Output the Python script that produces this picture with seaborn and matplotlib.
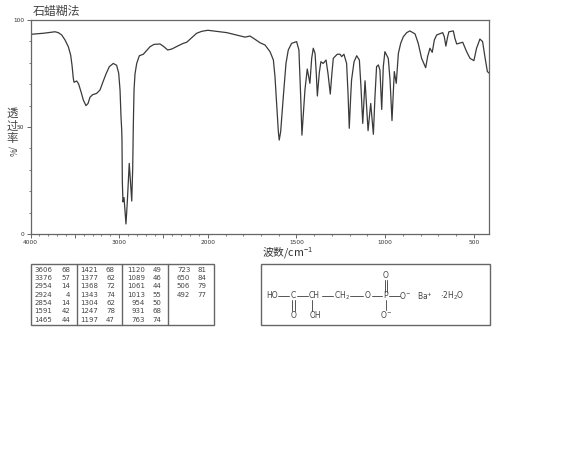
import numpy as np
import matplotlib
matplotlib.use('Agg')
import matplotlib.pyplot as plt
import seaborn as sns

title = '石蜡糊法'
xlabel = '波数/cm$^{-1}$'
ylabel_chars = ['透', '过', '率']

wavenumbers = [4000, 3855, 3724, 3686, 3648, 3611, 3573, 3547, 3532, 3517, 3509, 3479, 3457, 3427, 3404, 3374,
               3351, 3329, 3299, 3254, 3216, 3186, 3148, 3111, 3066, 3028, 3005, 2990, 2979,
               2971, 2968, 2964, 2957, 2945, 2923, 2908, 2886, 2858, 2847, 2840,
               2832, 2821, 2802, 2772, 2727, 2690, 2652, 2607, 2539, 2494, 2453, 2408, 2332, 2276, 2238, 2182,
               2126, 2069, 2000, 1893, 1790, 1762, 1734, 1706, 1677, 1649, 1630, 1621, 1612, 1602, 1597, 1589,
               1574, 1559, 1546, 1527, 1499, 1486, 1476, 1469, 1461, 1452, 1439, 1424, 1414, 1405, 1395, 1388,
               1382, 1371, 1362, 1349, 1333, 1322, 1309, 1300, 1292, 1270, 1254, 1245, 1232, 1217, 1209, 1202,
               1194, 1189, 1175, 1160, 1145, 1136, 1126, 1113, 1104, 1096, 1081, 1066, 1057, 1048, 1038, 1029,
               1019, 1010, 1001, 982, 972, 961, 948, 937, 925, 912, 897, 878, 860, 831, 813, 794,
               771, 760, 747, 734, 722, 709, 675, 666, 657, 647, 640, 615, 606, 596, 562, 540,
               521, 499, 484, 465, 450, 437, 423, 412]
transmittance = [93.3, 93.8, 94.5, 94.1, 93, 90.7, 87.5, 83.6, 79, 72.7, 70.9, 71.5, 70.1, 66, 62.6, 60,
                 61, 63.9, 65.1, 65.7, 67.3, 70.7, 74.8, 78.2, 79.7, 78.8, 75.1, 67.3, 54.8,
                 48.6, 43.9, 24.4, 15, 17, 4.7, 15, 33, 15.4, 30.8, 51,
                 67.3, 74.8, 79.7, 83.3, 84, 85.7, 87.5, 88.6, 88.8, 87.5, 86, 86.4, 88, 89.1, 89.6, 91.7,
                 93.8, 94.7, 95.2, 94.1, 92, 92.5, 91, 89.4, 88.3, 85.2, 81.3, 73.5, 61, 47.8, 43.9, 47.8,
                 64.2, 79.7, 86, 89.1, 89.9, 86, 64.2, 46.2, 56.4, 67.3, 77.1, 70.4, 82.1, 86.8, 84.4, 75,
                 64.5, 75.4, 80.5, 79.7, 81.3, 75, 65.4, 75, 82.1, 84, 84, 82.9, 84, 79.7, 65.7, 49.4,
                 64.2, 72, 80.5, 83.3, 81.3, 68.8, 51.7, 71.6, 59.5, 48.3, 61, 46.6, 64.2, 78.2, 79, 76.6,
                 58.2, 78.2, 85.2, 82.1, 72, 53, 75.9, 70.4, 84.4, 89.1, 92.2, 94.1, 94.9, 93.5, 89.1, 82.1,
                 77.7, 82.9, 86.8, 84.9, 90.7, 93, 94.1, 92.2, 87.8, 92.2, 94.5, 94.9, 91.4, 88.8, 89.6, 85.2,
                 82.1, 81, 86.8, 91.1, 89.9, 82.9, 75.9, 75.1]

major_xticks = [4000, 3500, 3000, 2500, 2000, 1500, 1000, 500]
major_xlabels = ['4000', '', '3000', '', '2000', '1500', '1000', '500']
yticks = [0, 50, 100]

peak_col1 = [(3606, 68), (3376, 57), (2954, 14), (2924, 4), (2854, 14), (1591, 42), (1465, 44)]
peak_col2 = [(1421, 68), (1377, 62), (1368, 72), (1343, 74), (1304, 62), (1247, 78), (1197, 47)]
peak_col3 = [(1120, 49), (1089, 46), (1061, 44), (1013, 55), (954, 50), (931, 68), (763, 74)]
peak_col4 = [(723, 81), (650, 84), (506, 79), (492, 77)]

GREY = '#666666'
W, H = 570, 475

sns.set_style('white')
plt.rcParams['font.family'] = ['Noto Sans CJK SC', 'DejaVu Sans']
plt.rcParams['mathtext.default'] = 'regular'


def forward(w):
    # above 2000 cm-1 the axis is compressed by half
    w = np.asarray(w, dtype=float)
    return np.where(w > 2000, 2000 + (w - 2000) / 2, w)


def inverse(u):
    u = np.asarray(u, dtype=float)
    return np.where(u > 2000, 2000 + (u - 2000) * 2, u)


fig = plt.figure(figsize=(5.7, 4.75), dpi=100)

# pixel overlay for the text, the peak table and the structure box
over = fig.add_axes([0, 0, 1, 1])
over.set_xlim(0, W)
over.set_ylim(H, 0)
over.axis('off')

ax = fig.add_axes([30.5 / W, 1 - 234 / H, 459 / W, 214 / H])
sns.lineplot(x=wavenumbers, y=transmittance, sort=False, estimator=None, color='#3a3a3a', linewidth=0.9, ax=ax)
ax.set_xscale('function', functions=(forward, inverse))
ax.set_xlim(4000, 411)
ax.set_ylim(0, 100)
ax.set_xticks(major_xticks)
ax.set_xticklabels(major_xlabels, fontsize=4.2, color='#333333', family='DejaVu Sans')
ax.set_xticks([w for w in range(500, 4000, 100) if w not in major_xticks], minor=True)
ax.set_yticks(yticks)
ax.set_yticklabels([str(v) for v in yticks], fontsize=4.2, color='#333333', family='DejaVu Sans')
ax.set_yticks(range(10, 100, 10), minor=True)
ax.tick_params(axis='both', which='major', length=3, width=0.7, color=GREY, pad=1.5, bottom=True, left=True)
ax.tick_params(axis='both', which='minor', length=1.5, width=0.6, color=GREY, bottom=True, left=True)
ax.patch.set_alpha(0)
for s in ax.spines.values():
    s.set_color(GREY)
    s.set_linewidth(0.9)
ax.set_xlabel('')
ax.set_ylabel('')

over.text(33, 11, title, fontsize=8.6, color='#444444', va='center', ha='left')
over.text(262, 253, xlabel, fontsize=7.8, color='#333333', va='center', ha='left')

for ch, y in zip(ylabel_chars, [113, 126, 139]):
    over.text(12, y, ch, fontsize=8.2, color='#444444', ha='center', va='center')
over.text(12, 152, '/%', fontsize=6, color='#444444', ha='center', va='center', rotation=270)

# peak table
over.add_patch(plt.Rectangle((30.5, 263.5), 183.5, 61.5, fill=False, edgecolor=GREY, linewidth=1))
for x in [76.7, 122.3, 168.3]:
    over.plot([x, x], [263.5, 325], color=GREY, linewidth=1)
row_y = [269.7, 278, 286.3, 294.6, 302.9, 311.2, 319.5]
columns = [(peak_col1, 52.3, 70), (peak_col2, 98.3, 115), (peak_col3, 145, 161.7), (peak_col4, 190.3, 206.7)]
for peaks, x_w, x_v in columns:
    for (w, t), y in zip(peaks, row_y):
        over.text(x_w, y, str(w), fontsize=5, color='#444444', ha='right', va='center', family='DejaVu Sans')
        over.text(x_v, y, str(t), fontsize=5, color='#444444', ha='right', va='center', family='DejaVu Sans')

# structure box
over.add_patch(plt.Rectangle((260.5, 263.5), 229, 61, fill=False, edgecolor=GREY, linewidth=1))
labels = [(272, 295.7, 'HO'), (293.3, 295.7, 'C'), (314.3, 295.7, 'CH'), (341.7, 295.7, 'CH$_2$'),
          (367.7, 295.7, 'O'), (386, 295.7, 'P'), (405, 295.7, 'O$^{-}$'), (386, 275.7, 'O'),
          (386, 315, 'O$^{-}$'), (293.3, 315, 'O'), (315, 315, 'OH'), (425, 295.7, 'Ba$^{+}$'),
          (452, 295.7, '$\\cdot$2H$_2$O')]
for x, y, s in labels:
    over.text(x, y, s, fontsize=5.5, color='#444444', ha='center', va='center', family='DejaVu Sans')
bonds = [(278, 289, 295.7, 295.7), (297, 308, 295.7, 295.7), (321.7, 333, 295.7, 295.7), (350, 363, 295.7, 295.7),
         (371.7, 381.7, 295.7, 295.7), (389.3, 400, 295.7, 295.7), (311.7, 311.7, 300, 311),
         (386, 386, 300, 310), (384.8, 384.8, 280, 291.7), (387.2, 387.2, 280, 291.7),
         (292, 292, 300, 311), (294.5, 294.5, 300, 311)]
for x0, x1, y0, y1 in bonds:
    over.plot([x0, x1], [y0, y1], color='#555555', linewidth=0.7)

fig.savefig('out.png', dpi=100)
plt.close(fig)
